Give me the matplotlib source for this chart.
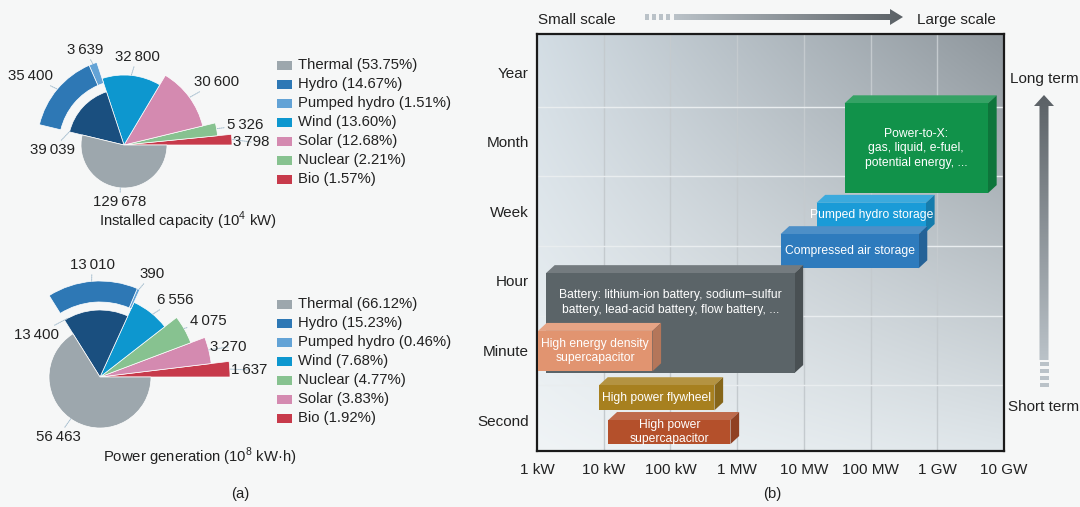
import numpy as np
import matplotlib.pyplot as plt
import matplotlib.colors as mcolors
from matplotlib.patches import Rectangle, Polygon

plt.rcParams['font.family'] = ['Liberation Sans', 'DejaVu Sans']
plt.rcParams['mathtext.fontset'] = 'custom'
plt.rcParams['mathtext.rm'] = 'Liberation Sans'

#%% Data

cap_sources = ['Thermal', 'Hydro', 'Pumped hydro', 'Wind', 'Solar', 'Nuclear', 'Bio']
capacity = [129678, 35400, 3639, 32800, 30600, 5326, 3798]       # 10^4 kW
gen_sources = ['Thermal', 'Hydro', 'Pumped hydro', 'Wind', 'Nuclear', 'Solar', 'Bio']
generation = [56463, 13010, 390, 6556, 4075, 3270, 1637]         # 10^8 kW h

power_labels = ['1 kW', '10 kW', '100 kW', '1 MW', '10 MW', '100 MW', '1 GW', '10 GW']
time_labels = ['Second', 'Minute', 'Hour', 'Week', 'Month', 'Year']

tech = ['Power-to-X:\ngas, liquid, e-fuel,\npotential energy, ...',
        'Pumped hydro storage',
        'Compressed air storage',
        'Battery: lithium-ion battery, sodium\u2013sulfur\nbattery, lead-acid battery, flow battery, ...',
        'High energy density\nsupercapacitor',
        'High power flywheel',
        'High power\nsupercapacitor']
# log10(power / kW) and time scale (0 = second ... 5 = year)
p_min = [4.61, 4.19, 3.65, 0.135, 0.015, 0.93, 1.07]
p_max = [6.76, 5.83, 5.72, 3.86, 1.73, 2.66, 2.90]
t_min = [3.26, 2.70, 2.18, 0.675, 0.70, 0.14, -0.345]
t_max = [4.55, 3.12, 2.67, 2.11, 1.28, 0.50, 0.0]

#%% Style

W, H = 1080, 507
bg = '#f6f7f7'
colors = {'Thermal': '#9da7ad', 'Hydro': '#2e78b5', 'Pumped hydro': '#63a3d6',
          'Wind': '#0d97cf', 'Solar': '#d48ab0', 'Nuclear': '#87c290', 'Bio': '#c73a4b'}
hydro_all = '#1a4f7f'
tech_colors = ['#11924a', '#1a9bd7', '#2e7bbd', '#5b6468', '#e19470', '#a7801f', '#b4502b']
text_dy = [0, 0.04, 0, 0.30, 0, 0, 0]

fig = plt.figure(figsize=(10.8, 5.07), dpi=100, facecolor=bg)


def fmt(v):
    return f'{v:,}'.replace(',', '\u2009')


def draw_pie(cx, cy, rmax, names, vals, order, radii, ring, labs):
    ax = fig.add_axes([(cx - rmax) / W, 1 - (cy + rmax) / H, 2 * rmax / W, 2 * rmax / H],
                      projection='polar')
    ax.set_ylim(0, rmax)
    ax.axis('off')
    ax.patch.set_alpha(0)
    v = dict(zip(names, vals))
    v['Hydro total'] = v['Hydro'] + v['Pumped hydro']
    total = sum(vals)
    start = 0.
    for name, r in zip(order, radii):
        key = 'Hydro total' if name == 'Hydro' else name
        w = 2 * np.pi * v[key] / total
        col = hydro_all if name == 'Hydro' else colors[name]
        ax.bar(start, r, width=w, align='edge', color=col, edgecolor='white', linewidth=0.5)
        if name == 'Hydro':
            w1 = 2 * np.pi * v['Pumped hydro'] / total
            ax.bar(start, ring[1] - ring[0], width=w1, bottom=ring[0], align='edge',
                   color=colors['Pumped hydro'], edgecolor='white', linewidth=0.5)
            ax.bar(start + w1, ring[1] - ring[0], width=w - w1, bottom=ring[0], align='edge',
                   color=colors['Hydro'], edgecolor='white', linewidth=0.5)
        start += w
    for key, ((tx, ty), (deg, rr)) in labs.items():
        ax.annotate(fmt(v[key]), xy=(np.deg2rad(deg), rr), xytext=(tx, H - ty),
                    textcoords='figure pixels', ha='center', va='center', fontsize=10.8,
                    color='#222222', annotation_clip=False,
                    arrowprops=dict(arrowstyle='-', color='#a3bccd', lw=0.7,
                                    linestyle=(0, (1, 1)), shrinkA=0, shrinkB=0))
    return ax


top_labs = {'Thermal': ((120, 202), (265, 43)),
            'Hydro total': ((52, 150), (166, 56)),
            'Hydro': ((30, 76), (140, 87)),
            'Pumped hydro': ((85, 50), (111, 87)),
            'Wind': ((137, 57), (84, 70)),
            'Solar': ((217, 82), (36, 81)),
            'Nuclear': ((245, 125), (10, 94)),
            'Bio': ((251, 142), (3, 108))}
draw_pie(124, 145, 110, cap_sources, capacity,
         ['Bio', 'Nuclear', 'Solar', 'Wind', 'Hydro', 'Thermal'],
         [108, 94, 81, 70, 56, 43], (65, 87), top_labs)

bot_labs = {'Thermal': ((58, 437), (235, 51)),
            'Hydro total': ((36, 335), (119, 67)),
            'Hydro': ((92, 265), (95, 96)),
            'Pumped hydro': ((152, 274), (66, 96)),
            'Wind': ((175, 300), (50, 82)),
            'Nuclear': ((208, 321), (30, 97)),
            'Solar': ((228, 347), (14, 112)),
            'Bio': ((249, 370), (3.5, 130))}
draw_pie(100, 377, 132, gen_sources, generation,
         ['Bio', 'Solar', 'Nuclear', 'Wind', 'Hydro', 'Thermal'],
         [130, 112, 97, 82, 67, 51], (75, 96), bot_labs)

#%% Storage map

ax = fig.add_axes([537 / W, 1 - 451 / H, 467 / W, 417 / H])
x0, x1, y0, y1 = 0, 7, -0.445, 5.546
corners = [mcolors.to_rgb(c) for c in ['#f0f4f6', '#dfe6ea', '#d3dde4', '#8f979d']]  # bl, br, tl, tr
U, V = np.meshgrid(np.linspace(0, 1, 300), np.linspace(0, 1, 300))
img = np.zeros((300, 300, 3))
for k in range(3):
    img[..., k] = (corners[0][k] * (1 - U) * (1 - V) + corners[1][k] * U * (1 - V)
                   + corners[2][k] * (1 - U) * V + corners[3][k] * U * V)
ax.imshow(img, extent=(x0, x1, y0, y1), origin='lower', aspect='auto', zorder=0)
ax.vlines(np.arange(1, 7), y0, y1, color='#c4cace', lw=1, zorder=1)
ax.hlines(np.arange(0.5, 5), x0, x1, color='#e9edef', lw=1, zorder=1)
ax.set_xlim(x0, x1)
ax.set_ylim(y0, y1)
ax.set_xticks(range(len(power_labels)))
ax.set_xticklabels(power_labels)
ax.set_yticks(range(len(time_labels)))
ax.set_yticklabels(time_labels)
ax.tick_params(length=0, labelsize=11, colors='#222222')
ax.tick_params(axis='x', pad=9)
ax.tick_params(axis='y', pad=6)
for s in ax.spines.values():
    s.set_linewidth(1.6)
    s.set_color('#1a1a1a')

dx, dy = 0.13, 0.115
for i in range(len(tech)):
    c = np.array(mcolors.to_rgb(tech_colors[i]))
    top = c + (1 - c) * 0.15
    side = c * 0.8
    a, b, lo, hi = p_min[i], p_max[i], t_min[i], t_max[i]
    z = 2 + i
    ax.add_patch(Polygon([(a, hi), (a + dx, hi + dy), (b + dx, hi + dy), (b, hi)],
                         closed=True, fc=top, ec='none', zorder=z))
    ax.add_patch(Polygon([(b, lo), (b, hi), (b + dx, hi + dy), (b + dx, lo + dy)],
                         closed=True, fc=side, ec='none', zorder=z))
    ax.add_patch(Rectangle((a, lo), b - a, hi - lo, fc=c, ec='none', zorder=z))
    ax.text((a + b) / 2, (lo + hi) / 2 + text_dy[i], tech[i], ha='center', va='center',
            color='white', fontsize=8.7, linespacing=1.3, zorder=z + 0.5)

#%% Overlay: legends, arrows, captions

ov = fig.add_axes([0, 0, 1, 1])
ov.axis('off')
ov.patch.set_alpha(0)


def legend(y0, names, vals):
    total = sum(vals)
    for i, (n, v) in enumerate(zip(names, vals)):
        y = y0 + i * 19
        ov.add_patch(Rectangle((277, y - 4.5), 15, 9, fc=colors[n], ec='none'))
        ov.text(298, y, f'{n} ({100 * v / total:.2f}%)', ha='left', va='center',
                fontsize=10.7, color='#222222')


legend(65, cap_sources, capacity)
legend(304, gen_sources, generation)
ov.text(188, 221, 'Installed capacity (10$^4$ kW)', ha='center', va='center', fontsize=10.7,
        color='#222222')
ov.text(200, 457, 'Power generation (10$^8$ kW\u00b7h)', ha='center', va='center',
        fontsize=10.7, color='#222222')
ov.text(240, 494, '(a)', ha='center', va='center', fontsize=10.7, color='#222222')
ov.text(772, 494, '(b)', ha='center', va='center', fontsize=10.7, color='#222222')

dark, light = np.array(mcolors.to_rgb('#5b6166')), np.array(mcolors.to_rgb('#bac2c8'))
ramp = np.linspace(0, 1, 200)[:, None] * (dark - light) + light

# horizontal arrow
harrow = Polygon([(674, 14), (890, 14), (890, 9), (903, 17), (890, 25), (890, 20), (674, 20)],
                 closed=True, fc='none', ec='none')
ov.add_patch(harrow)
im = ov.imshow(ramp[None, :, :], extent=(674, 903, 25, 9), aspect='auto')
im.set_clip_path(harrow)
for k in range(4):
    ov.add_patch(Rectangle((645 + 7 * k, 14), 4, 6, fc=light, ec='none'))
ov.text(577, 20, 'Small scale', ha='center', va='center', fontsize=11, color='#222222')
ov.text(956, 20, 'Large scale', ha='center', va='center', fontsize=11, color='#222222')

# vertical arrow (dark at the head)
varrow = Polygon([(1039.5, 360), (1039.5, 106), (1034, 106), (1044, 95), (1054, 106),
                  (1048.5, 106), (1048.5, 360)], closed=True, fc='none', ec='none')
ov.add_patch(varrow)
im = ov.imshow(ramp[::-1, None, :], extent=(1034, 1054, 360, 95), aspect='auto')
im.set_clip_path(varrow)
for k in range(4):
    ov.add_patch(Rectangle((1039.5, 362 + 7 * k), 9, 4, fc=light, ec='none'))
ov.text(1044, 79, 'Long term', ha='center', va='center', fontsize=11, color='#222222')
ov.text(1044, 407, 'Short term', ha='center', va='center', fontsize=11, color='#222222')

ov.set_xlim(0, W)
ov.set_ylim(H, 0)

fig.savefig('out.png', dpi=100, facecolor=bg)
